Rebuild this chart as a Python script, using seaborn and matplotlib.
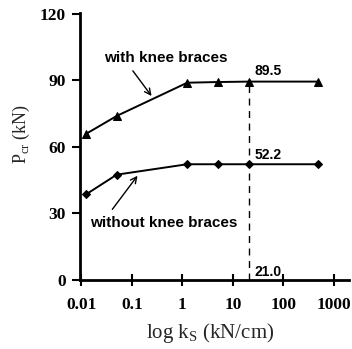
import matplotlib
matplotlib.use("Agg")
import matplotlib.pyplot as plt
import seaborn as sns
import pandas as pd
import numpy as np
from matplotlib.ticker import LogLocator, FixedLocator, FixedFormatter, NullFormatter

sns.set_theme(style="ticks")
plt.rcParams['font.family'] = ['Liberation Serif', 'DejaVu Serif']

ks = [0.0125, 0.05, 1.25, 5, 21, 500]
p_with = [66.0, 74.0, 89.0, 89.3, 89.5, 89.5]
p_without = [38.7, 47.5, 52.2, 52.2, 52.2, 52.2]
x_ticks = [0.01, 0.1, 1, 10, 100, 1000]
x_ticklabels = ["0.01", "0.1", "1", "10", "100", "1000"]
y_ticks = [0, 30, 60, 90, 120]
k_crit = 21.0
p_with_crit = 89.5
p_without_crit = 52.2

df = pd.DataFrame({"ks": ks * 2,
                   "P": p_with + p_without,
                   "case": ["with"] * len(ks) + ["without"] * len(ks)})

fig = plt.figure(figsize=(3.52, 3.49), dpi=100)
ax = fig.add_axes([0.227, 0.198, 0.764, 0.765])

sns.lineplot(data=df[df.case == "with"], x="ks", y="P", ax=ax, color="black",
             marker="^", markersize=5.5, linewidth=1.4, markeredgecolor="black")
sns.lineplot(data=df[df.case == "without"], x="ks", y="P", ax=ax, color="black",
             marker="D", markersize=4.5, linewidth=1.4, markeredgecolor="black")

ax.set_xscale("log")
ax.set_xlim(0.0093, 2000)
ax.set_ylim(0, 120.5)

ax.plot([k_crit, k_crit], [0, p_with_crit], color="black", linestyle=(0, (5, 4)), linewidth=1.0)

ax.xaxis.set_major_locator(FixedLocator(x_ticks))
ax.xaxis.set_major_formatter(FixedFormatter(x_ticklabels))
ax.xaxis.set_minor_locator(LogLocator(base=10, subs=np.arange(2, 10)))
ax.xaxis.set_minor_formatter(NullFormatter())
ax.set_yticks(y_ticks)

for s in ["top", "right"]:
    ax.spines[s].set_visible(False)
for s in ["left", "bottom"]:
    ax.spines[s].set_linewidth(2.0)
    ax.spines[s].set_color("black")

ax.tick_params(axis="x", which="major", direction="inout", length=8, width=1.5,
               labelsize=12.5, pad=8, colors="black")
ax.tick_params(axis="x", which="minor", direction="out", length=3.5, width=1.2, colors="black")
ax.tick_params(axis="y", which="major", direction="out", length=6, width=1.5,
               labelsize=12.5, pad=4, colors="black")
for lab in ax.get_xticklabels() + ax.get_yticklabels():
    lab.set_fontweight("bold")

ax.set_xlabel(r"log k$_\mathregular{S}$ (kN/cm)", fontsize=15)
ax.set_ylabel(r"P$_\mathregular{cr}$ (kN)", fontsize=13)
ax.xaxis.set_label_coords(0.483, -0.155)
ax.yaxis.set_label_coords(-0.178, 0.545)

afont = dict(family="Liberation Sans", fontweight="bold", fontsize=11, color="black")
nfont = dict(family="Liberation Sans", fontweight="bold", fontsize=10, color="black")
ax.annotate("with knee braces", xy=(0.245, 83), xytext=(0.47, 100),
            ha="center", va="center",
            arrowprops=dict(arrowstyle="->", color="black", lw=1.0,
                            relpos=(0.2, 0.0), shrinkA=2, shrinkB=0), **afont)
ax.annotate("without knee braces", xy=(0.129, 47), xytext=(0.42, 25.7),
            ha="center", va="center",
            arrowprops=dict(arrowstyle="->", color="black", lw=1.0,
                            relpos=(0.12, 1.0), shrinkA=3, shrinkB=0), **afont)
ax.text(k_crit * 1.3, p_with_crit + 1.5, f"{p_with_crit:.1f}", ha="left", va="bottom", **nfont)
ax.text(k_crit * 1.3, p_without_crit + 1.0, f"{p_without_crit:.1f}", ha="left", va="bottom", **nfont)
ax.text(k_crit * 1.3, 0.6, f"{k_crit:.1f}", ha="left", va="bottom", **nfont)

fig.savefig("out.png", dpi=100)
